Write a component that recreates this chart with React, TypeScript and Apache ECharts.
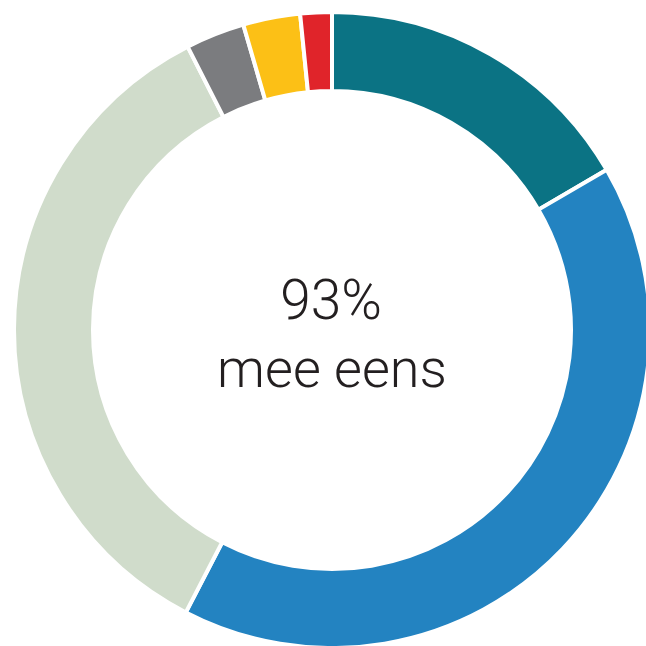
import React, { useEffect, useRef } from "react";
import * as echarts from "echarts";

const categories = [
  "Helemaal mee eens",
  "Mee eens",
  "Enigszins mee eens",
  "Enigszins oneens",
  "Oneens",
  "Helemaal oneens",
];
const values = [16.6, 41.0, 34.9, 3.0, 2.9, 1.6];
const colors = ["#0b7384", "#2383c1", "#d0dccb", "#7b7c7f", "#fcc016", "#e0242a"];
const centerLines = ["93%", "mee eens"];

export default function App() {
  const ref = useRef<HTMLDivElement>(null);
  useEffect(() => {
    if (!ref.current) return;
    const chart = echarts.init(ref.current, undefined, { renderer: "svg" });
    chart.setOption({
      animation: false,
      backgroundColor: "#ffffff",
      series: [
        {
          type: "pie",
          center: [332, 330],
          radius: [239, 318],
          startAngle: 90,
          clockwise: true,
          silent: true,
          avoidLabelOverlap: false,
          label: { show: false },
          labelLine: { show: false },
          emphasis: { disabled: true },
          itemStyle: { borderColor: "#ffffff", borderWidth: 4 },
          data: categories.map((name, i) => ({
            name,
            value: values[i],
            itemStyle: { color: colors[i] },
          })),
        },
      ],
      graphic: [
        {
          type: "text",
          x: 331,
          y: 300,
          style: {
            text: centerLines[0],
            font: "300 55px Roboto, 'Open Sans', sans-serif",
            fill: "#231f20",
            align: "center",
            verticalAlign: "middle",
          },
        },
        {
          type: "text",
          x: 332,
          y: 368,
          style: {
            text: centerLines[1],
            font: "300 54px Roboto, 'Open Sans', sans-serif",
            fill: "#231f20",
            align: "center",
            verticalAlign: "middle",
          },
        },
      ],
    });
    return () => chart.dispose();
  }, []);
  return (
    <div
      ref={ref}
      style={{ position: "fixed", left: 0, top: 0, width: 646, height: 646 }}
    />
  );
}
